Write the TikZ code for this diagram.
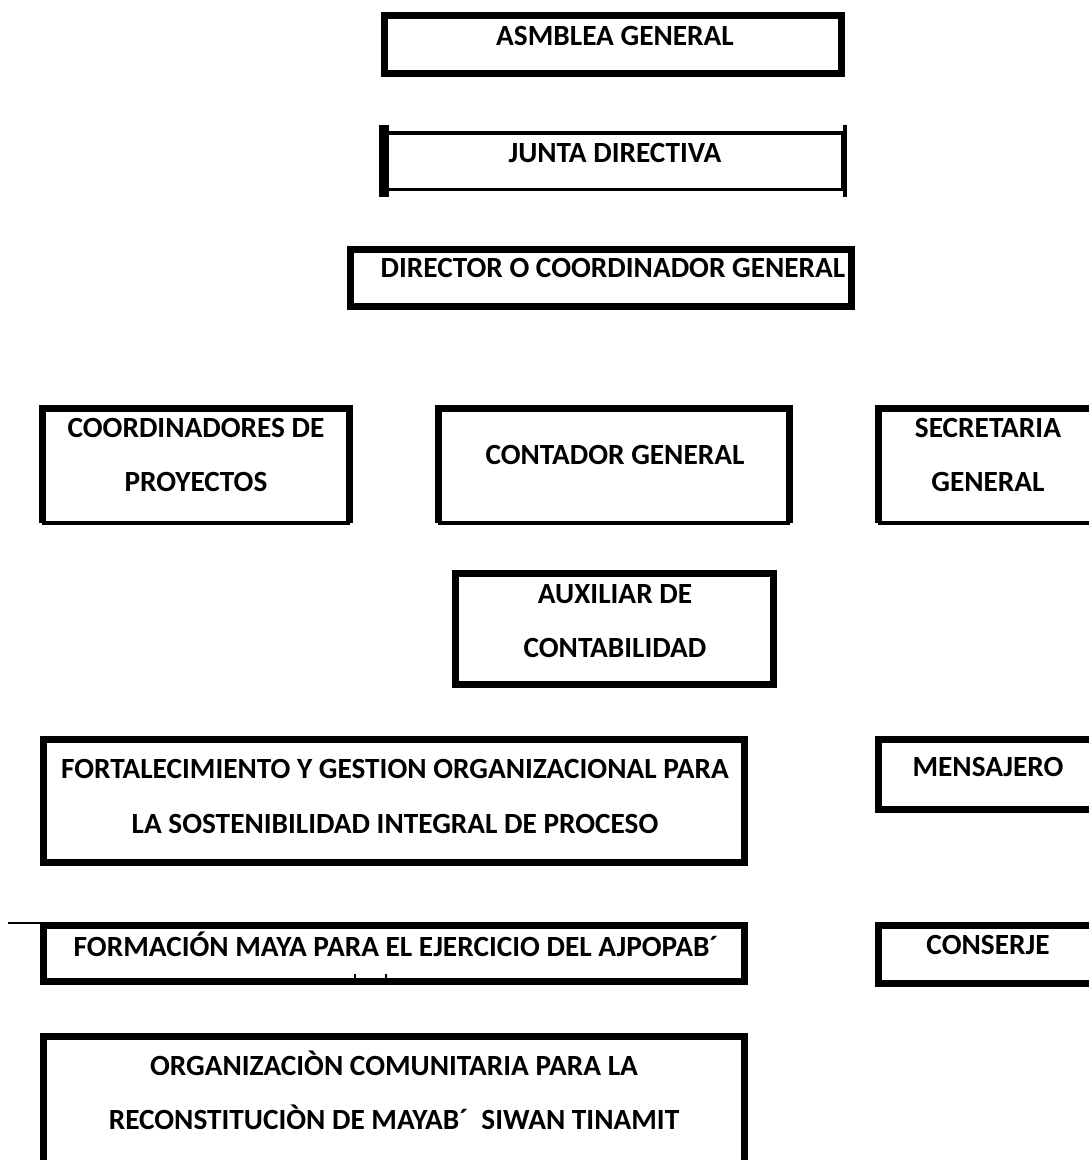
\documentclass[tikz,border=0pt]{standalone}
\usepackage{fontspec}
\setmainfont{Carlito}
\usetikzlibrary{calc,positioning}
\tikzset{
  caja/.style={draw,line width=7pt},
  hueca/.style={inner sep=0pt},
  gruesa/.style={line width=7pt},
  fina/.style={line width=3.5pt},
  rotulo/.style={font=\bfseries\fontsize{29.3}{54.5}\selectfont,align=center,inner sep=0pt},
}
\begin{document}
\begin{tikzpicture}[x=1pt,y=-1pt]
\useasboundingbox (0,0) rectangle (1089,1160);
\clip (0,0) rectangle (1089,1160);
% nivel directivo
\node[caja,minimum width=457pt,minimum height=58pt] (asamblea) at (613,44.5) {};
\node[rotulo] (asambleaT) at (615,36) {ASMBLEA GENERAL};
\node[draw,fina,minimum width=457pt,minimum height=56.5pt] (junta) at (614.5,161.25) {};
\draw[line width=10pt] ($(junta.north west)+(0,-6)$) -- ($(junta.south west)+(0,6)$);
\draw[fina] ($(junta.north east)+(0,-6)$) -- ($(junta.south east)+(0,6)$);
\node[rotulo] (juntaT) at (615,153) {JUNTA DIRECTIVA};
\node[caja,minimum width=501pt,minimum height=57pt] (director) at (601,278) {};
\node[rotulo] (directorT) at (613,268) {DIRECTOR O COORDINADOR GENERAL};
% segundo nivel
\node[hueca,minimum width=307pt,minimum height=114.5pt] (coordinadores) at (196,465.75) {};
\draw[gruesa] (coordinadores.south west) -- (coordinadores.north west) -- (coordinadores.north east) -- (coordinadores.south east);
\draw[fina] (coordinadores.south west) -- (coordinadores.south east);
\node[rotulo] (coordinadoresT) at (196,454.75) {COORDINADORES DE\\PROYECTOS};
\node[hueca,minimum width=351pt,minimum height=114.5pt] (contador) at (614,465.75) {};
\draw[gruesa] (contador.south west) -- (contador.north west) -- (contador.north east) -- (contador.south east);
\draw[fina] (contador.south west) -- (contador.south east);
\node[rotulo] (contadorT) at (615,455) {CONTADOR GENERAL};
\node[hueca,minimum width=221.5pt,minimum height=114.5pt] (secretaria) at (989.25,465.75) {};
\draw[gruesa] (secretaria.north east) -- (secretaria.north west) -- (secretaria.south west);
\draw[fina] (secretaria.south west) -- (secretaria.south east);
\node[rotulo] (secretariaT) at (988,454.75) {SECRETARIA\\GENERAL};
\node[caja,minimum width=318pt,minimum height=111pt] (auxiliar) at (614.5,629) {};
\node[rotulo] (auxiliarT) at (615,621) {AUXILIAR DE\\CONTABILIDAD};
% programas y apoyo
\node[caja,minimum width=701pt,minimum height=123pt] (fortalecimiento) at (394,801) {};
\node[rotulo] (fortalecimientoT) at (395,796.5) {FORTALECIMIENTO Y GESTION ORGANIZACIONAL PARA\\LA SOSTENIBILIDAD INTEGRAL DE PROCESO};
\node[hueca,minimum width=221.5pt,minimum height=70pt] (mensajero) at (989.25,774.5) {};
\draw[gruesa] (mensajero.north east) -- (mensajero.north west) -- (mensajero.south west) -- (mensajero.south east);
\node[rotulo] (mensajeroT) at (988,767) {MENSAJERO};
\node[caja,minimum width=701pt,minimum height=56pt] (formacion) at (394,953.5) {};
\coordinate (raya) at (8,923);
\draw[line width=2pt] (raya) -- ++(34,0);
\draw[line width=1.5pt] (355,979) -- (355,974);
\draw[line width=1.5pt] (386,979) -- (386,974);
\node[rotulo] (formacionT) at (396,944) {FORMACIÓN MAYA PARA EL EJERCICIO DEL AJPOPAB´};
\node[hueca,minimum width=221.5pt,minimum height=57pt] (conserje) at (989.25,954.5) {};
\draw[gruesa] (conserje.north east) -- (conserje.north west) -- (conserje.south west) -- (conserje.south east);
\node[rotulo] (conserjeT) at (988,945) {CONSERJE};
\node[hueca,minimum width=701pt,minimum height=133.5pt] (organizacion) at (394,1103.25) {};
\draw[gruesa] (organizacion.south west) -- (organizacion.north west) -- (organizacion.north east) -- (organizacion.south east);
\node[rotulo] (organizacionT) at (394,1090.5) {ORGANIZACIÒN COMUNITARIA PARA LA\\RECONSTITUCIÒN DE MAYAB´\ \ SIWAN TINAMIT};
\end{tikzpicture}
\end{document}
